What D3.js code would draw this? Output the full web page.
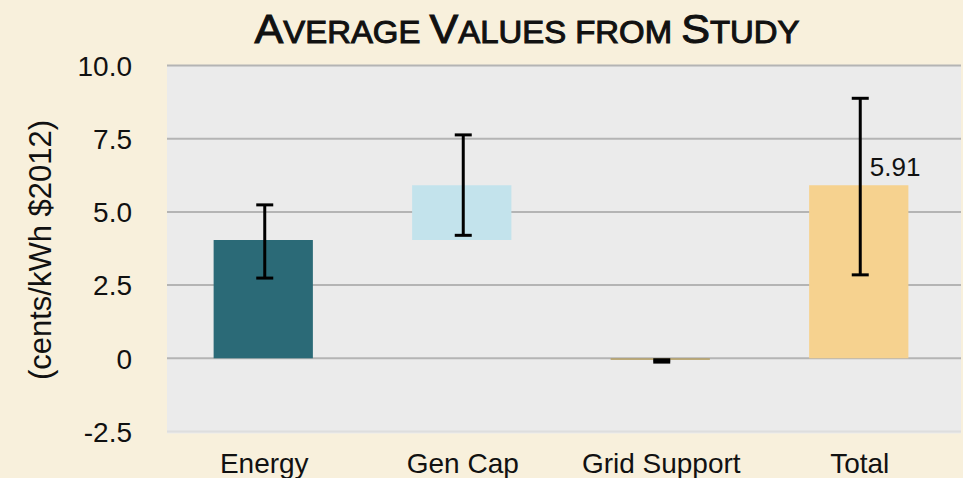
<!DOCTYPE html>
<html>
<head>
<meta charset="utf-8">
<script src="https://cdn.jsdelivr.net/npm/d3@7"></script>
<style>
  html, body { margin: 0; padding: 0; background: #f8f0dc; }
  svg { display: block; }
  text { font-family: "Liberation Sans", Arial, Helvetica, sans-serif; fill: #111; }
</style>
</head>
<body>
<svg id="chart" width="963" height="478"></svg>
<script>
// Study components (cents/kWh, $2012)
const categories = ["Energy", "Gen Cap", "Grid Support", "Total"];
const barStart   = [0, 4.04, 0, 0];
const barEnd     = [4.04, 5.91, -0.05, 5.91];
const errLow     = [2.74, 4.2, -0.13, 2.85];
const errHigh    = [5.24, 7.63, -0.05, 8.88];
const barColors  = ["#2b6a77", "#c3e3ec", "#b39d62", "#f6d28f"];
const tickValues = [-2.5, 0, 2.5, 5.0, 7.5, 10.0];
const tickLabels = ["-2.5", "0", "2.5", "5.0", "7.5", "10.0"];
const totalLabel = "5.91";

const svg = d3.select("#chart");
const W = 963, H = 478;

svg.append("rect").attr("width", W).attr("height", H).attr("fill", "#f8f0dc");

const panel = { left: 167, right: 961 };
const y = d3.scaleLinear().domain([-2.5, 10]).range([431.5, 65.5]);
const x = d3.scaleBand().domain(categories).range([164, 958])
  .paddingInner(0.5).paddingOuter(0.25);

// plot panel
svg.append("rect")
  .attr("x", panel.left).attr("y", y(10))
  .attr("width", panel.right - panel.left)
  .attr("height", y(-2.5) - y(10) + 2)
  .attr("fill", "#ebebeb");

// gridlines
svg.append("g").selectAll("line")
  .data(tickValues)
  .join("line")
  .attr("x1", panel.left).attr("x2", panel.right)
  .attr("y1", d => y(d)).attr("y2", d => y(d))
  .attr("stroke", d => d === -2.5 ? "#dedede" : "#b4b4b4")
  .attr("stroke-width", 2);

// y axis tick labels
const yAxis = d3.axisLeft(y).tickValues(tickValues)
  .tickFormat((d, i) => tickLabels[i]).tickSize(0).tickPadding(0);
const gy = svg.append("g").attr("transform", "translate(132,0)").call(yAxis);
gy.select(".domain").remove();
gy.selectAll("text")
  .attr("font-size", 28)
  .attr("font-family", "Liberation Sans, Arial, sans-serif")
  .attr("fill", "#111")
  .attr("dy", "0.35em");

// y axis title
svg.append("text")
  .attr("transform", `translate(51,${250}) rotate(-90)`)
  .attr("text-anchor", "middle")
  .attr("font-size", 31)
  .text("(cents/kWh $2012)");

// bars
const rows = categories.map((c, i) => ({
  c, s: barStart[i], e: barEnd[i], lo: errLow[i], hi: errHigh[i], color: barColors[i]
}));

svg.append("g").selectAll("rect")
  .data(rows)
  .join("rect")
  .attr("x", d => x(d.c))
  .attr("width", x.bandwidth())
  .attr("y", d => y(Math.max(d.s, d.e)))
  .attr("height", d => Math.max(1.5, Math.abs(y(d.s) - y(d.e))))
  .attr("fill", d => d.color);

// error bars
const eg = svg.append("g").attr("stroke", "#000").attr("stroke-width", 3);
rows.forEach(d => {
  const cx = x(d.c) + x.bandwidth() / 2 + 1.5;
  eg.append("line").attr("x1", cx).attr("x2", cx)
    .attr("y1", y(d.hi)).attr("y2", y(d.lo));
  [d.hi, d.lo].forEach(v => {
    eg.append("line").attr("x1", cx - 8.5).attr("x2", cx + 8.5)
      .attr("y1", y(v)).attr("y2", y(v));
  });
});

// value label on the total bar
svg.append("text")
  .attr("x", x("Total") + x.bandwidth() / 2 + 11)
  .attr("y", y(5.91) - 9)
  .attr("font-size", 26)
  .text(totalLabel);

// category labels
svg.append("g").selectAll("text")
  .data(categories)
  .join("text")
  .attr("x", d => x(d) + x.bandwidth() / 2 + 1)
  .attr("y", 473)
  .attr("text-anchor", "middle")
  .attr("font-size", 28)
  .text(d => d);

// title in small caps
const title = svg.append("text")
  .attr("x", 527).attr("y", 42.5)
  .attr("text-anchor", "middle")
  .attr("stroke", "#111")
  .attr("stroke-width", 1)
  .attr("textLength", 545)
  .attr("lengthAdjust", "spacingAndGlyphs");
[["A", 40], ["VERAGE ", 30.5], ["V", 40], ["ALUES FROM ", 30.5], ["S", 40], ["TUDY", 30.5]]
  .forEach(([t, s]) => title.append("tspan").attr("font-size", s).text(t));
</script>
</body>
</html>
